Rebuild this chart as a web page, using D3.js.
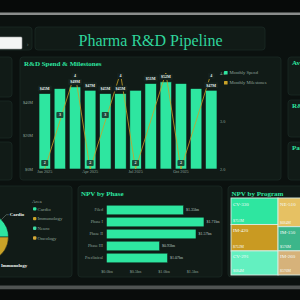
<!DOCTYPE html>
<html>
<head>
<meta charset="utf-8">
<script src="https://cdn.jsdelivr.net/npm/d3@7"></script>
<style>
  html, body { margin: 0; padding: 0; background: #0b110f; }
  svg { display: block; font-family: "Liberation Serif", "DejaVu Serif", serif; }
</style>
</head>
<body>
<svg id="dash" width="300" height="300"></svg>
<script>
// ---- data ----
const months = ['Jan 2025', 'Feb 2025', 'Mar 2025', 'Apr 2025', 'May 2025', 'Jun 2025',
  'Jul 2025', 'Aug 2025', 'Sep 2025', 'Oct 2025', 'Nov 2025', 'Dec 2025'];
const monthlySpend = [45, 48, 49, 47, 45, 45, 47, 51, 52, 51, 48, 47]; // $M
const monthlyMilestones = [2, 3, 4, 2, 3, 4, 2, 3, 4, 2, 3, 4];
const spendTicks = [0, 20, 40];
const milestoneTicks = [2, 3, 4];
const monthTicks = ['Jan 2025', 'Apr 2025', 'Jul 2025', 'Oct 2025'];
// labels the chart keeps after hiding the ones that collide
const spendLabelMonths = ['Jan 2025', 'Mar 2025', 'Apr 2025', 'May 2025', 'Jun 2025', 'Aug 2025', 'Sep 2025', 'Dec 2025'];
const milestoneLabelMonths = ['Jan 2025', 'Feb 2025', 'Mar 2025', 'Apr 2025', 'May 2025', 'Jun 2025', 'Jul 2025', 'Oct 2025', 'Dec 2025'];

const areas = ['Cardio', 'Immunology', 'Neuro', 'Oncology'];
const areaShare = [25, 36, 20, 19];

const phases = ['Filed', 'Phase I', 'Phase II', 'Phase III', 'Preclinical'];
const phaseNpv = [1.35, 1.71, 1.57, 0.93, 1.07]; // $bn
const npvTicks = [0, 0.5, 1, 1.5];

const programs = ['CV-330', 'IM-420', 'CV-291', 'NE-510', 'IM-150', 'IM-260'];
const programNpv = [751, 752, 684, 684, 576, 576]; // $M
const programGroup = [0, 0, 0, 1, 1, 1];

// ---- styles ----
const mint = '#2ee6a0';
const gold = '#c9a227';
const panelFill = '#111b17';
const panelStroke = '#1b2924';
const muted = '#8fa59b';
const areaColors = { Cardio: mint, Immunology: gold, Neuro: '#3ed9a2', Oncology: '#d4a838' };
const programColors = { 'CV-330': mint, 'IM-420': '#c99a22', 'CV-291': '#63f0c0',
  'NE-510': '#e6c163', 'IM-150': '#3cb68a', 'IM-260': '#d6b27a' };

const svg = d3.select('#dash');

// page frame
svg.append('rect').attr('width', 300).attr('height', 12.5).attr('fill', '#070a09');
svg.append('rect').attr('y', 12.5).attr('width', 300).attr('height', 2.5).attr('fill', '#8a8d8c');
svg.append('rect').attr('y', 285.5).attr('width', 300).attr('height', 4).attr('fill', '#4f5352');
svg.append('rect').attr('y', 289.5).attr('width', 300).attr('height', 10.5).attr('fill', '#090c0b');

function panel(x, y, w, h) {
  return svg.append('rect')
    .attr('x', x).attr('y', y).attr('width', w).attr('height', h)
    .attr('rx', 3)
    .attr('fill', panelFill)
    .attr('stroke', panelStroke)
    .attr('stroke-width', 0.8);
}

function title(x, y, text) {
  svg.append('text')
    .attr('x', x).attr('y', y)
    .attr('fill', mint)
    .attr('font-size', 7)
    .attr('font-weight', 'bold')
    .text(text);
}

// header
panel(-10, 27, 42, 23);
svg.append('rect').attr('x', -3).attr('y', 37).attr('width', 25).attr('height', 12)
  .attr('rx', 1).attr('fill', '#f4f5f4').attr('stroke', '#9aa09d').attr('stroke-width', 0.6);
svg.append('text').attr('x', 26.5).attr('y', 45.5).attr('fill', '#5d6b65')
  .attr('font-size', 7).text('›');
panel(35, 27, 230, 23);
svg.append('text')
  .attr('x', 150.5).attr('y', 45.5)
  .attr('text-anchor', 'middle')
  .attr('fill', '#2fd69c')
  .attr('font-size', 16)
  .text('Pharma R&D Pipeline');

// side KPI panels (cut off by the window)
[[57, 40], [101, 37], [142, 38]].forEach(([y, h]) => panel(-20, y, 32, h));
[[57, 38, 'Avg Cost per Trial'], [100, 37, 'R&D Intensity'], [142, 38, 'Patents Filed']]
  .forEach(([y, h, t]) => { panel(288, y, 40, h); title(292, y + 8, t); });

// ---- R&D Spend & Milestones ----
panel(20, 57, 261, 123);
title(24, 65.5, 'R&D Spend & Milestones');

const x = d3.scaleBand().domain(months).range([37.5, 218.5]).paddingInner(0.24).paddingOuter(0.1);
const ySpend = d3.scaleLinear().domain([0, 57.3]).range([169, 73]);
const yMile = d3.scaleLinear().domain([2, 4]).range([169, 73]);
const cxOf = m => x(m) + x.bandwidth() / 2;

const gLeft = svg.append('g').attr('transform', 'translate(34,0)')
  .call(d3.axisLeft(ySpend).tickValues(spendTicks).tickSize(0).tickPadding(1).tickFormat(d => `$${d}M`));
const gRight = svg.append('g').attr('transform', 'translate(219,0)')
  .call(d3.axisRight(yMile).tickValues(milestoneTicks).tickSize(0).tickPadding(1));
const gBottom = svg.append('g').attr('transform', 'translate(0,169)')
  .call(d3.axisBottom(x).tickValues(monthTicks).tickSize(0).tickPadding(1.5));
[gLeft, gRight, gBottom].forEach(g => {
  g.select('.domain').remove();
  g.selectAll('text').attr('fill', muted).attr('font-size', 4.2).attr('font-family', 'Liberation Serif');
});

svg.append('g').selectAll('rect')
  .data(monthlySpend)
  .join('rect')
  .attr('x', (_, i) => x(months[i]))
  .attr('y', d => ySpend(d))
  .attr('width', x.bandwidth())
  .attr('height', d => ySpend(0) - ySpend(d))
  .attr('fill', mint)
  .attr('stroke', '#0f1d18')
  .attr('stroke-width', 0.6);

const line = d3.line()
  .x((_, i) => cxOf(months[i]))
  .y(d => yMile(d));
svg.append('path')
  .datum(monthlyMilestones)
  .attr('d', line)
  .attr('fill', 'none')
  .attr('stroke', gold)
  .attr('stroke-width', 0.8)
  .attr('stroke-miterlimit', 10);

function boxLabel(cx, cy, text, w, fill) {
  const g = svg.append('g');
  g.append('rect').attr('x', cx - w / 2).attr('y', cy - 3).attr('width', w).attr('height', 6)
    .attr('rx', 0.8).attr('fill', fill);
  g.append('text').attr('x', cx).attr('y', cy + 1.4).attr('text-anchor', 'middle')
    .attr('fill', '#e8f2ee').attr('font-size', 4).attr('font-weight', 'bold').text(text);
}

monthlySpend.forEach((v, i) => {
  if (!spendLabelMonths.includes(months[i])) return;
  boxLabel(cxOf(months[i]), ySpend(v) - 5, `$${v}M`, 14, '#16241f');
});
monthlyMilestones.forEach((v, i) => {
  if (!milestoneLabelMonths.includes(months[i])) return;
  // labels stay inside the plot area
  const cy = Math.max(yMile(v) - 6, 76);
  boxLabel(cxOf(months[i]), cy, String(v), 7, v === 4 ? '#14201c' : '#1c4a3a');
});

// legend
[['Monthly Spend', mint], ['Monthly Milestones', gold]].forEach(([t, c], i) => {
  svg.append('rect').attr('x', 224).attr('y', 71 + i * 10).attr('width', 3.6).attr('height', 3.6)
    .attr('rx', 0.6).attr('fill', c);
  svg.append('text').attr('x', 229.5).attr('y', 74.4 + i * 10).attr('fill', muted)
    .attr('font-size', 4.6).text(t);
});

// ---- Area pie ----
panel(-20, 186, 92, 91);
const pie = d3.pie().sort(null).value(d => d)(areaShare);
const r = 24.5, cx0 = -16, cy0 = 237;
const arc = d3.arc().innerRadius(0).outerRadius(r);
const gPie = svg.append('g').attr('transform', `translate(${cx0},${cy0})`);
gPie.selectAll('path').data(pie).join('path')
  .attr('d', arc)
  .attr('fill', (_, i) => areaColors[areas[i]])
  .attr('stroke', '#0e1714')
  .attr('stroke-width', 0.5);
pie.forEach((p, i) => {
  const a = (p.startAngle + p.endAngle) / 2;
  const p1 = [Math.sin(a) * r, -Math.cos(a) * r];
  const p2 = [Math.sin(a) * (r + 7), -Math.cos(a) * (r + 7)];
  const right = Math.sin(a) >= 0;
  const p3 = [p2[0] + (right ? 2.5 : -2.5), p2[1]];
  gPie.append('polyline').attr('points', [p1, p2, p3].map(p => p.join(',')).join(' '))
    .attr('fill', 'none').attr('stroke', '#9fb3aa').attr('stroke-width', 0.4);
  gPie.append('text').attr('x', p3[0] + (right ? 1 : -1)).attr('y', p3[1] + 1.6)
    .attr('text-anchor', right ? 'start' : 'end')
    .attr('fill', '#eef5f2').attr('font-size', 4.8).attr('font-weight', 'bold')
    .text(areas[i]);
});
svg.append('text').attr('x', 32).attr('y', 202.5).attr('fill', muted).attr('font-size', 5).text('Area');
areas.forEach((a, i) => {
  svg.append('rect').attr('x', 33).attr('y', 207.2 + i * 9.7).attr('width', 3.4).attr('height', 3.4)
    .attr('rx', 1).attr('fill', areaColors[a]);
  svg.append('text').attr('x', 37.5).attr('y', 210.6 + i * 9.7).attr('fill', muted)
    .attr('font-size', 4.8).text(a);
});

// ---- NPV by Phase ----
panel(78, 186, 144, 91);
title(81, 195.5, 'NPV by Phase');
const xNpv = d3.scaleLinear().domain([0, 2]).range([106.5, 220.5]);
const yPhase = d3.scaleBand().domain(phases).range([204, 264]).paddingInner(0.2).paddingOuter(0.1);
svg.append('g').selectAll('rect').data(phaseNpv).join('rect')
  .attr('x', xNpv(0))
  .attr('y', (_, i) => yPhase(phases[i]))
  .attr('width', d => xNpv(d) - xNpv(0))
  .attr('height', yPhase.bandwidth())
  .attr('fill', mint)
  .attr('stroke', '#0f1d18')
  .attr('stroke-width', 0.5);
svg.append('g').selectAll('text').data(phaseNpv).join('text')
  .attr('x', d => xNpv(d) + 2.5)
  .attr('y', (_, i) => yPhase(phases[i]) + yPhase.bandwidth() / 2 + 1.4)
  .attr('fill', '#b9c9c2').attr('font-size', 4)
  .text(d => `$${d.toFixed(2)}bn`);
const gPy = svg.append('g').attr('transform', 'translate(104,0)')
  .call(d3.axisLeft(yPhase).tickSize(0).tickPadding(1));
const gPx = svg.append('g').attr('transform', 'translate(0,267)')
  .call(d3.axisBottom(xNpv).tickValues(npvTicks).tickSize(0).tickPadding(3).tickFormat(d => `$${d.toFixed(1)}bn`));
[gPy, gPx].forEach(g => {
  g.select('.domain').remove();
  g.selectAll('text').attr('fill', muted).attr('font-size', 4.2).attr('font-family', 'Liberation Serif');
});

// ---- NPV by Program (treemap) ----
panel(228, 186, 110, 91);
title(231.5, 195.5, 'NPV by Program');
const groups = d3.groups(programs.map((p, i) => ({ name: p, value: programNpv[i], g: programGroup[i] })), d => d.g);
const root = d3.hierarchy({ children: groups.map(([, kids]) => ({ children: kids })) })
  .sum(d => d.value || 0);
d3.treemap().tile(d3.treemapSliceDice).size([86.5, 77])(root);
const cells = svg.append('g').attr('transform', 'translate(231,198)')
  .selectAll('g').data(root.leaves()).join('g')
  .attr('transform', d => `translate(${d.x0},${d.y0})`);
cells.append('rect')
  .attr('width', d => d.x1 - d.x0)
  .attr('height', d => d.y1 - d.y0)
  .attr('fill', d => programColors[d.data.name])
  .attr('stroke', '#d9eee4')
  .attr('stroke-width', 0.9);
cells.append('text').attr('x', 2).attr('y', 7.5)
  .attr('fill', '#f4fbf8').attr('font-size', 5).text(d => d.data.name);
cells.append('text').attr('x', 2).attr('y', d => d.y1 - d.y0 - 2.5)
  .attr('fill', '#f4fbf8').attr('font-size', 3.8).text(d => `$${d.data.value}M`);
</script>
</body>
</html>
